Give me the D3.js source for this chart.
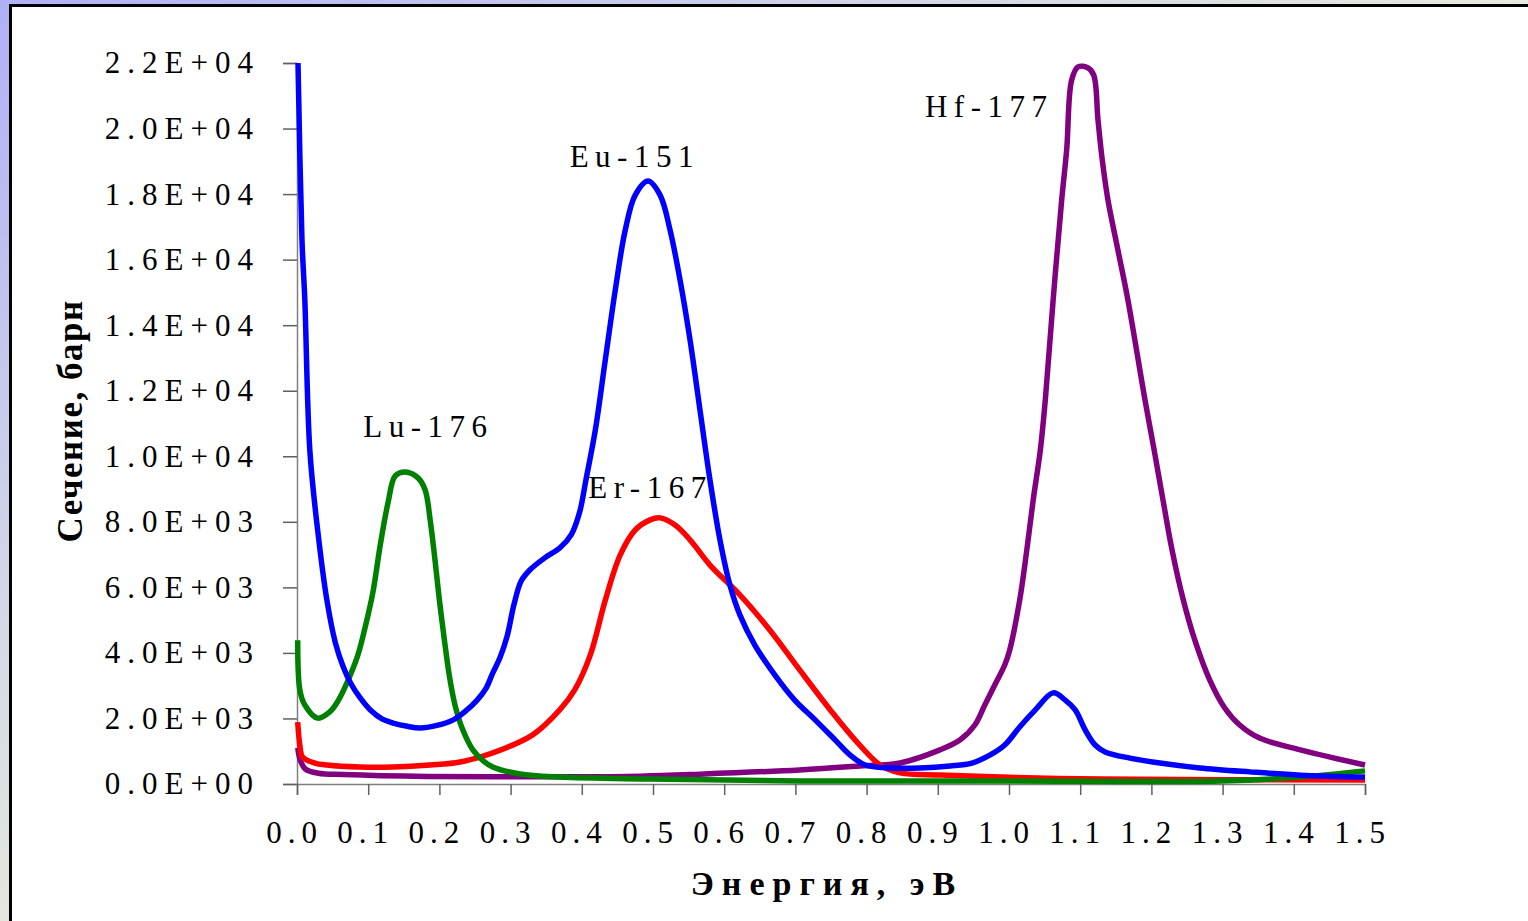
<!DOCTYPE html>
<html><head><meta charset="utf-8">
<script src="https://cdn.jsdelivr.net/npm/d3@7"></script>
<style>html,body{margin:0;padding:0;overflow:hidden;background:#fff}</style>
</head><body>
<svg id="chart" width="1528" height="921"></svg>
<script>
// ---- data (energy eV, cross-section barn) ----
const xTickValues = [0,0.1,0.2,0.3,0.4,0.5,0.6,0.7,0.8,0.9,1.0,1.1,1.2,1.3,1.4,1.5];
const xTickLabels = ["0.0","0.1","0.2","0.3","0.4","0.5","0.6","0.7","0.8","0.9","1.0","1.1","1.2","1.3","1.4","1.5"];
const yTickValues = [0,2000,4000,6000,8000,10000,12000,14000,16000,18000,20000,22000];
const yTickLabels = ["0.0E+00","2.0E+03","4.0E+03","6.0E+03","8.0E+03","1.0E+04","1.2E+04","1.4E+04","1.6E+04","1.8E+04","2.0E+04","2.2E+04"];

const eu151 = [[0.0014,22000],[0.007,16600],[0.011,14770],[0.018,10190],[0.029,7750],[0.042,5610],[0.054,4300],[0.065,3570],[0.076,3050],[0.088,2650],[0.103,2260],[0.120,1980],[0.135,1860],[0.155,1760],[0.173,1710],[0.195,1780],[0.219,1950],[0.237,2230],[0.253,2560],[0.265,2900],[0.275,3390],[0.285,3850],[0.295,4500],[0.305,5500],[0.315,6200],[0.327,6530],[0.348,6900],[0.369,7200],[0.385,7600],[0.397,8300],[0.406,9300],[0.419,10800],[0.433,12940],[0.447,15070],[0.461,16900],[0.475,17970],[0.493,18400],[0.510,17970],[0.524,16900],[0.538,15380],[0.552,13550],[0.566,11410],[0.580,9280],[0.594,7450],[0.608,6070],[0.622,5160],[0.643,4240],[0.671,3330],[0.699,2560],[0.728,1950],[0.756,1340],[0.777,880],[0.798,580],[0.833,490],[0.875,490],[0.917,550],[0.948,640],[0.973,880],[0.994,1190],[1.015,1740],[1.037,2260],[1.062,2780],[1.079,2560],[1.093,2260],[1.107,1650],[1.121,1190],[1.135,980],[1.170,790],[1.212,640],[1.268,490],[1.338,370],[1.409,270],[1.5,210]];

const lu176 = [[0.001,4390],[0.004,2870],[0.011,2410],[0.029,2010],[0.046,2200],[0.058,2550],[0.070,3080],[0.085,3900],[0.097,4900],[0.107,5900],[0.117,7300],[0.128,8600],[0.138,9400],[0.152,9520],[0.170,9340],[0.180,8970],[0.187,8060],[0.194,6800],[0.200,5610],[0.207,4400],[0.214,3300],[0.222,2400],[0.232,1700],[0.247,1040],[0.262,700],[0.275,520],[0.313,305],[0.369,210],[0.496,150],[0.706,90],[0.987,90],[1.296,90],[1.409,210],[1.5,400]];

const er167 = [[0.001,1890],[0.004,1190],[0.008,820],[0.025,640],[0.042,580],[0.088,520],[0.135,520],[0.187,580],[0.229,670],[0.275,950],[0.331,1500],[0.369,2260],[0.390,2870],[0.412,3940],[0.433,5610],[0.454,6990],[0.475,7750],[0.496,8060],[0.510,8120],[0.531,7900],[0.552,7450],[0.580,6680],[0.622,5770],[0.664,4700],[0.706,3480],[0.749,2260],[0.784,1340],[0.819,580],[0.847,340],[0.903,275],[0.987,210],[1.128,150],[1.5,120]];

const hf177 = [[0.001,1100],[0.005,700],[0.012,450],[0.030,330],[0.065,290],[0.183,230],[0.369,220],[0.482,240],[0.566,300],[0.706,430],[0.791,550],[0.847,640],[0.903,1040],[0.931,1340],[0.952,1800],[0.966,2410],[0.980,3020],[0.994,3630],[1.001,4090],[1.015,5610],[1.025,7140],[1.034,8670],[1.044,10190],[1.051,11720],[1.062,14770],[1.074,17820],[1.081,19350],[1.088,21480],[1.097,21880],[1.111,21850],[1.119,21630],[1.125,20260],[1.131,19040],[1.139,17820],[1.153,16290],[1.167,14770],[1.191,11720],[1.205,10050],[1.216,8700],[1.229,7140],[1.245,5600],[1.261,4390],[1.282,3170],[1.303,2320],[1.324,1800],[1.352,1400],[1.409,1040],[1.5,580]];

const seriesNames = ["Eu-151","Lu-176","Er-167","Hf-177"];
const seriesColors = ["#0000ff","#008000","#ff0000","#800080"];
const seriesData = [eu151, lu176, er167, hf177];
// label anchor points (energy, barn)
const labelPos = [[0.383,18830],[0.093,10590],[0.409,8730],[0.882,20350]];

const xTitle = "Энергия, эВ";
const yTitle = "Сечение, барн";

// ---- drawing ----
const svg = d3.select("#chart");
const defs = svg.append("defs");
const grad = defs.append("linearGradient").attr("id","bg")
  .attr("gradientUnits","userSpaceOnUse")
  .attr("x1",0).attr("y1",0).attr("x2",560).attr("y2",870);
grad.append("stop").attr("offset",0).attr("stop-color","#b0b0f6");
grad.append("stop").attr("offset",0.5).attr("stop-color","#d4d8e6");
grad.append("stop").attr("offset",1).attr("stop-color","#f4f6d6");
svg.append("rect").attr("width",1528).attr("height",921).attr("fill","url(#bg)");
svg.append("rect").attr("x",10.5).attr("y",5.5).attr("width",1530).attr("height",930)
  .attr("fill","#fff").attr("stroke","#000").attr("stroke-width",3);

const x = d3.scaleLinear().domain([0,1.5]).range([297,1365]);
const y = d3.scaleLinear().domain([0,22000]).range([784,63]);

const fontSerif = "'Liberation Serif','Times New Roman',serif";

// y axis
const yAxis = svg.append("g").attr("transform","translate(297,0)")
  .call(d3.axisLeft(y).tickValues(yTickValues).tickSize(14)
    .tickFormat((d,i)=>yTickLabels[i]).tickPadding(30));
yAxis.select(".domain").attr("stroke","#808080").attr("stroke-width",1.5);
yAxis.selectAll(".tick line").attr("stroke","#606060").attr("stroke-width",1.5);
yAxis.selectAll(".tick text").attr("font-family",fontSerif).attr("font-size",31)
  .attr("letter-spacing",7).attr("fill","#000").attr("dx",7);

// x axis
const xAxis = svg.append("g").attr("transform","translate(0,784)")
  .call(d3.axisBottom(x).tickValues(xTickValues).tickSize(11)
    .tickFormat((d,i)=>xTickLabels[i]).tickPadding(26));
xAxis.select(".domain").attr("stroke","#808080").attr("stroke-width",1.5);
xAxis.selectAll(".tick line").attr("stroke","#606060").attr("stroke-width",1.5);
xAxis.selectAll(".tick text").attr("font-family",fontSerif).attr("font-size",31)
  .attr("letter-spacing",6).attr("fill","#000").attr("dx",-3);

// lines
const line = d3.line().x(d=>x(d[0])).y(d=>y(d[1])).curve(d3.curveCatmullRom.alpha(0.5));
const drawOrder = [3,2,1,0];
drawOrder.forEach(i=>{
  svg.append("path").datum(seriesData[i]).attr("d",line)
    .attr("fill","none").attr("stroke",seriesColors[i]).attr("stroke-width",5.5)
    .attr("stroke-linejoin","round");
});

// series labels
seriesNames.forEach((n,i)=>{
  svg.append("text").attr("x",x(labelPos[i][0])).attr("y",y(labelPos[i][1]))
    .attr("font-family",fontSerif).attr("font-size",31).attr("letter-spacing",6.5)
    .attr("fill","#000").text(n);
});

// axis titles
svg.append("text").attr("x",827).attr("y",895).attr("text-anchor","middle")
  .attr("font-family",fontSerif).attr("font-weight","bold").attr("font-size",34)
  .attr("letter-spacing",8).text(xTitle);
svg.append("text").attr("transform","translate(82,421) rotate(-90)").attr("text-anchor","middle")
  .attr("font-family",fontSerif).attr("font-weight","bold").attr("font-size",35)
  .attr("letter-spacing",1.5).text(yTitle);
</script>
</body></html>
